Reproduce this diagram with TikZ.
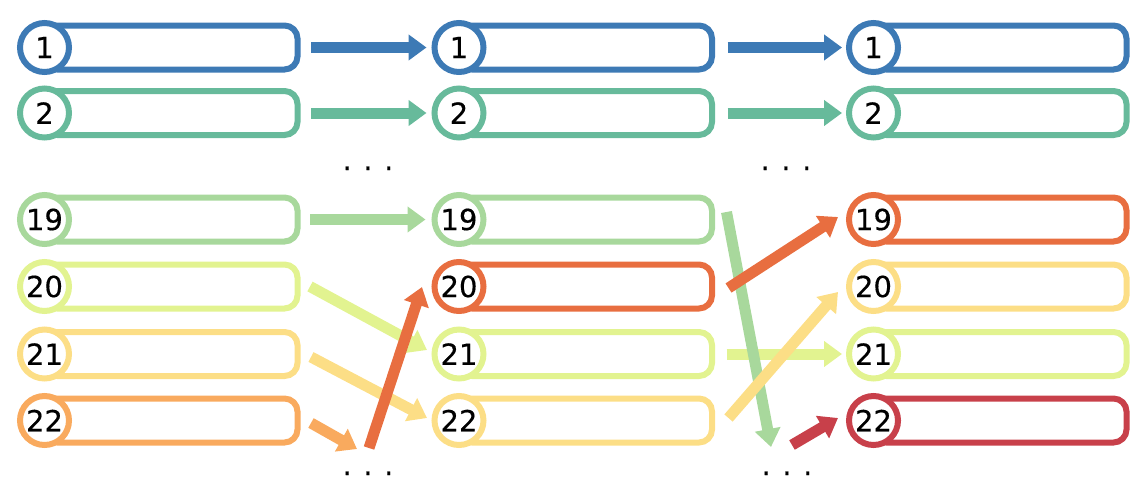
\documentclass[tikz,border=0pt]{standalone}
\usepackage{fontspec}
\setmainfont{DejaVu Sans}
\newfontfamily\numfont[FakeBold=0.4]{DejaVu Sans}
\usetikzlibrary{arrows.meta}
\definecolor{cblue}{RGB}{61,122,181}
\definecolor{cteal}{RGB}{103,186,155}
\definecolor{clgreen}{RGB}{168,216,156}
\definecolor{cygreen}{RGB}{226,243,144}
\definecolor{cyellow}{RGB}{252,222,134}
\definecolor{corange}{RGB}{249,170,94}
\definecolor{cored}{RGB}{232,110,64}
\definecolor{cred}{RGB}{200,64,74}
\newcommand{\cellrow}[5]{%
  \node[box, draw=#4] (r#1) at (#2+126.5, #3) {};
  \node[num, draw=#4] (c#1) at (#2, #3) {#5};}
\begin{document}
\begin{tikzpicture}[x=1pt,y=-1pt,
  box/.style={rounded corners=13pt, minimum width=253pt, minimum height=44pt,
    inner sep=0pt, outer sep=0pt, line width=6pt},
  num/.style={circle, fill=white, minimum size=49pt, inner sep=0pt,
    outer sep=0pt, line width=6pt, font=\numfont\fontsize{29}{32}\selectfont},
  flow/.style={line width=11pt, -{Triangle[length=18pt,width=25pt]}},
  dotrow/.style={anchor=base, inner sep=0pt, font=\numfont\fontsize{28}{32}\selectfont}]
\useasboundingbox (0,0) rectangle (1137,496);
% column 1
\cellrow{A1}{44.5}{47.5}{cblue}{1}
\cellrow{A2}{44.5}{113}{cteal}{2}
\cellrow{A19}{44.5}{219.5}{clgreen}{19}
\cellrow{A20}{44.5}{286.5}{cygreen}{20}
\cellrow{A21}{44.5}{354}{cyellow}{21}
\cellrow{A22}{44.5}{420.5}{corange}{22}
% column 2
\cellrow{B1}{459}{47.5}{cblue}{1}
\cellrow{B2}{459}{113}{cteal}{2}
\cellrow{B19}{459}{219.5}{clgreen}{19}
\cellrow{B20}{459}{286.5}{cored}{20}
\cellrow{B21}{459}{354}{cygreen}{21}
\cellrow{B22}{459}{420.5}{cyellow}{22}
% column 3
\cellrow{C1}{873.5}{47.5}{cblue}{1}
\cellrow{C2}{873.5}{113}{cteal}{2}
\cellrow{C19}{873.5}{219.5}{cored}{19}
\cellrow{C20}{873.5}{286.5}{cyellow}{20}
\cellrow{C21}{873.5}{354}{cygreen}{21}
\cellrow{C22}{873.5}{420.5}{cred}{22}
% dots
\node[dotrow] (dAt) at (368,170) {. . .};
\node[dotrow] (dBt) at (786,170) {. . .};
\node[dotrow] (dAb) at (368,475) {. . .};
\node[dotrow] (dBb) at (787,475) {. . .};
% free ends near the lower dots
\coordinate (inA) at (357,449);
\coordinate (outA) at (369,448);
\coordinate (inB) at (771,447);
\coordinate (outB) at (792,445);
% arrows column 1 -> 2
\draw[flow, cblue] ([xshift=13.5pt]rA1.east) -- ([xshift=-8pt]cB1.west);
\draw[flow, cteal] ([xshift=13.5pt]rA2.east) -- ([xshift=-8pt]cB2.west);
\draw[flow, clgreen] ([xshift=12.5pt]rA19.east) -- ([xshift=-9pt]cB19.west);
\draw[flow, cygreen] ([xshift=12.5pt]rA20.east) -- ([xshift=-7.5pt,yshift=4pt]cB21.west);
\draw[flow, cyellow] ([xshift=13.5pt,yshift=-3pt]rA21.east) -- ([xshift=-7.5pt,yshift=2.5pt]cB22.west);
\draw[flow, corange] ([xshift=13.5pt,yshift=-2.5pt]rA22.east) -- (inA);
\draw[flow, cored] (outA) -- ([xshift=-12.5pt,yshift=-0.5pt]cB20.west);
% arrows column 2 -> 3
\draw[flow, cblue] ([xshift=15.5pt]rB1.east) -- ([xshift=-7pt]cC1.west);
\draw[flow, cteal] ([xshift=15.5pt]rB2.east) -- ([xshift=-7pt]cC2.west);
\draw[flow, cygreen] ([xshift=14.5pt]rB21.east) -- ([xshift=-7pt]cC21.west);
\draw[flow, clgreen] ([xshift=14.5pt,yshift=7.5pt]rB19.east) -- (inB);
\draw[flow, cyellow] ([xshift=16.5pt,yshift=2.5pt]rB22.east) -- ([xshift=-11pt,yshift=-5.5pt]cC20.west);
\draw[flow, cored] ([xshift=16.5pt,yshift=-1.5pt]rB20.east) -- ([xshift=-11pt,yshift=2.5pt]cC19.west);
\draw[flow, cred] (outB) -- ([xshift=-11pt,yshift=2.5pt]cC22.west);
\end{tikzpicture}
\end{document}
